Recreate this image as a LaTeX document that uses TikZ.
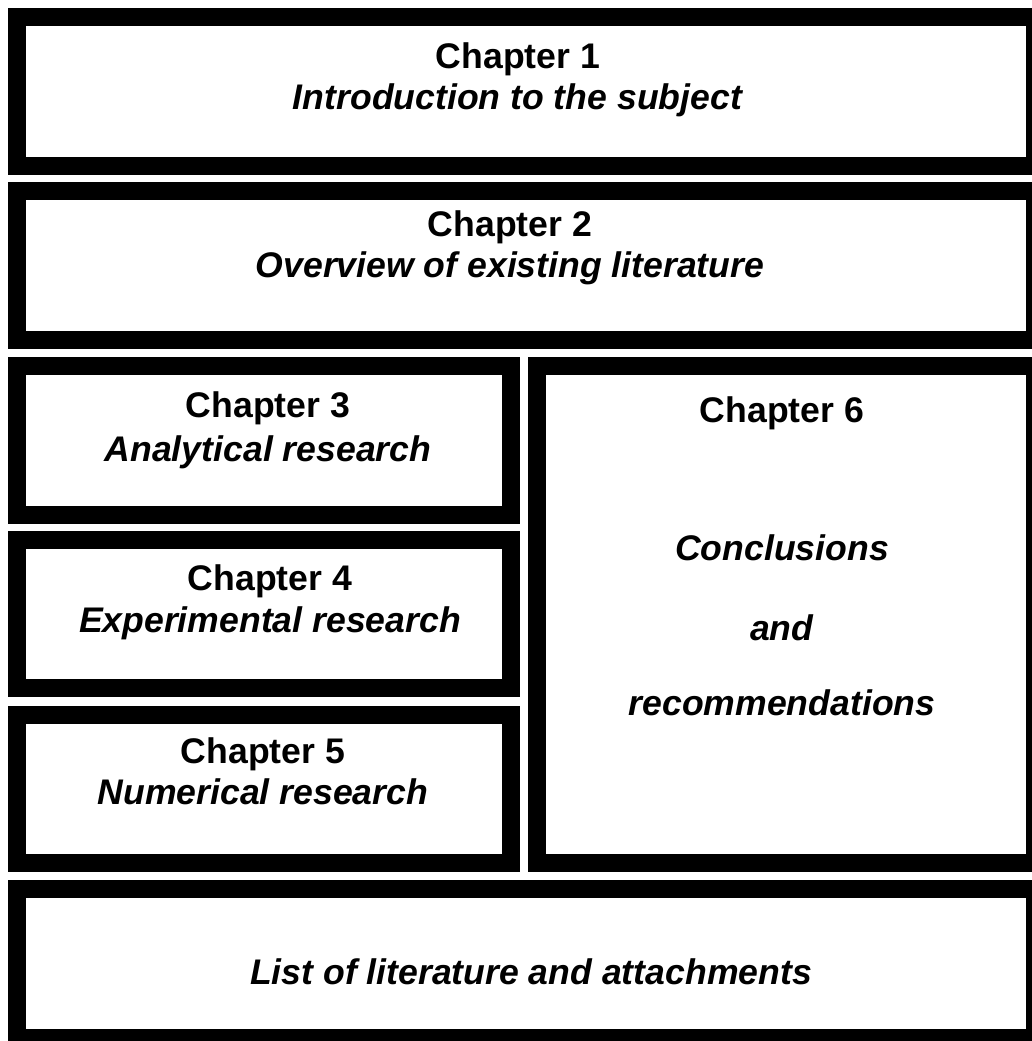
\documentclass[tikz,border=0pt]{standalone}
\usepackage{fontspec}
\setmainfont{Liberation Sans}
\usetikzlibrary{positioning}
\newcommand\chapfont{\fontsize{35.6}{41}\selectfont\bfseries}

\begin{document}
\begin{tikzpicture}[x=1pt,y=-1pt,every node/.style={font=\chapfont}]
      \tikzstyle{chapbox}=[draw=black,line width=18pt,fill=white,
                           minimum width=494pt,minimum height=149pt]
      \tikzstyle{chaptext}=[anchor=north,inner sep=0pt,align=center]
      \tikzstyle{wide}=[minimum width=1018pt]
      \fill[white] (0,0) rectangle (1031,1041);
      \useasboundingbox (0,0) rectangle (1031,1041);
      \node[chapbox,wide] (c1) at (526,91.5) {};
      \node[chapbox,wide] (c2) at (526,265.5) {};
      \node[chapbox] (c3) at (264,440.5) {};
      \node[chapbox,minimum height=148pt] (c4) at (264,614) {};
      \node[chapbox,minimum height=148pt] (c5) at (264,789) {};
      \node[chapbox,minimum width=498pt,minimum height=497pt] (c6) at (786,614.5) {};
      \node[chapbox,wide] (c7) at (526,963.5) {};
      \node[chaptext] (t1) at (518,42.5) {Chapter 1\\\textit{Introduction to the subject}};
      \node[chaptext] (t2) at (510,211) {Chapter 2\\\textit{Overview of existing literature}};
      \node[chaptext] (t3) at (268,391.5) {Chapter 3\\[3pt]\textit{Analytical research}};
      \node[chaptext] (t4) at (270,564.5) {Chapter 4\\[1pt]\textit{Experimental research}};
      \node[chaptext] (t5) at (263,737.5) {Chapter 5\\\textit{Numerical research}};
      \node[chaptext] (t6) at (782,396) {Chapter 6\\[97pt]\textit{Conclusions}\\[39pt]
                                         \textit{and}\\[34pt]\textit{recommendations}};
      \node[chaptext] (t7) at (531,958) {\textit{List of literature and attachments}};
    \end{tikzpicture}
\end{document}
